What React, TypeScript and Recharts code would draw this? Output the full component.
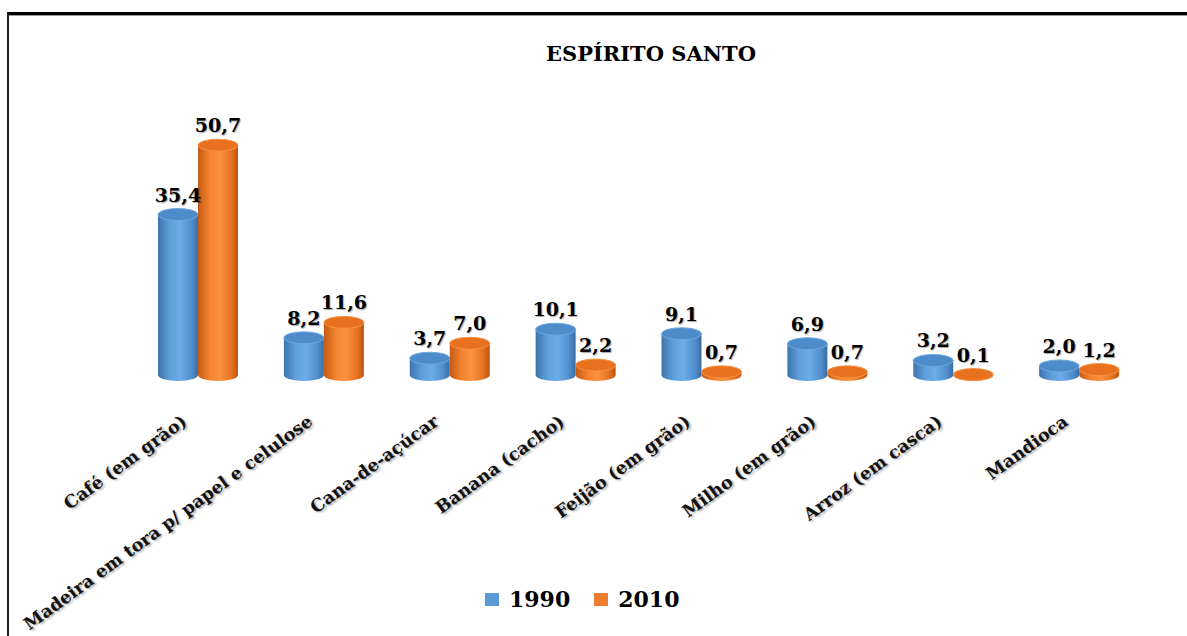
import React from "react";
import { BarChart, Bar, XAxis, YAxis, LabelList } from "recharts";

const categories = [
  "Café (em grão)",
  "Madeira em tora p/ papel e celulose",
  "Cana-de-açúcar",
  "Banana (cacho)",
  "Feijão (em grão)",
  "Milho (em grão)",
  "Arroz (em casca)",
  "Mandioca",
];
const values1990 = [35.4, 8.2, 3.7, 10.1, 9.1, 6.9, 3.2, 2.0];
const values2010 = [50.7, 11.6, 7.0, 2.2, 0.7, 0.7, 0.1, 1.2];

const data = categories.map((name, i) => ({
  name,
  y1990: values1990[i],
  y2010: values2010[i],
}));

const SERIF = "'DejaVu Serif', 'Liberation Serif', serif";
const RY = 6;

const palette = {
  blue: { top: "#4d8bcb", rim: "#6aa8e2" },
  orange: { top: "#e7711f", rim: "#f8913f" },
};

function Cylinder(props: any) {
  const { x, y, width, height, kind } = props;
  if (width == null || y == null) return null;
  const c = palette[kind as "blue" | "orange"];
  const rx = width / 2;
  const h = Math.max(height, 0);
  const body = `M${x},${y} L${x},${y + h} A${rx},${RY} 0 0 0 ${x + width},${y + h} L${x + width},${y} Z`;
  return (
    <g>
      <path d={body} fill={`url(#grad-${kind})`} />
      <ellipse cx={x + rx} cy={y} rx={rx} ry={RY} fill={c.top} stroke={c.rim} strokeWidth={1} />
    </g>
  );
}

const fmt = (v: number) => v.toFixed(1).replace(".", ",");

function ValueLabel(props: any) {
  const { x, y, width, value } = props;
  return (
    <text
      x={x + width / 2}
      y={y - 13}
      textAnchor="middle"
      fontFamily={SERIF}
      fontWeight="bold"
      fontSize={19}
      fill="#000"
      style={{ textShadow: "1px 1px 1px rgba(0,0,0,0.35)" }}
    >
      {fmt(Number(value))}
    </text>
  );
}

function CategoryTick(props: any) {
  const { x, y, payload } = props;
  const ax = x - 10;
  const ay = y + 41;
  return (
    <text
      x={ax}
      y={ay}
      textAnchor="end"
      transform={`rotate(-36, ${ax}, ${ay})`}
      fontFamily={SERIF}
      fontWeight="bold"
      fontSize={17.5}
      fill="#111"
      style={{ textShadow: "1px 2px 2px rgba(0,0,0,0.35)" }}
    >
      {payload.value}
    </text>
  );
}

export default function App() {
  return (
    <div
      style={{
        position: "absolute",
        left: 0,
        top: 0,
        width: 1187,
        height: 636,
        overflow: "hidden",
        background: "#fff",
      }}
    >
      <div
        style={{
          position: "absolute",
          left: 7,
          top: 12,
          width: 1300,
          height: 800,
          borderTop: "3px solid #000",
          borderLeft: "2px solid #222",
          boxShadow: "inset 0 1px 0 #999",
        }}
      />
      <div
        style={{
          position: "absolute",
          left: 0,
          top: 41,
          width: 1302,
          textAlign: "center",
          fontFamily: SERIF,
          fontWeight: "bold",
          fontSize: 21,
          color: "#000",
        }}
      >
        ESPÍRITO SANTO
      </div>
      <div style={{ position: "absolute", left: 0, top: 0 }}>
        <BarChart
          width={1187}
          height={636}
          data={data}
          margin={{ top: 103, right: 45, left: 135, bottom: 0 }}
          barGap={0}
          barSize={40}
        >
          <defs>
            <linearGradient id="grad-blue" x1="0" y1="0" x2="1" y2="0">
              <stop offset="0%" stopColor="#3e74ae" />
              <stop offset="30%" stopColor="#5e9fdc" />
              <stop offset="55%" stopColor="#6aade9" />
              <stop offset="85%" stopColor="#4f8ccb" />
              <stop offset="100%" stopColor="#3a6ca3" />
            </linearGradient>
            <linearGradient id="grad-orange" x1="0" y1="0" x2="1" y2="0">
              <stop offset="0%" stopColor="#c45a14" />
              <stop offset="30%" stopColor="#f3832f" />
              <stop offset="55%" stopColor="#fb9240" />
              <stop offset="85%" stopColor="#e3701e" />
              <stop offset="100%" stopColor="#bb5510" />
            </linearGradient>
          </defs>
          <XAxis
            dataKey="name"
            height={261}
            axisLine={false}
            tickLine={false}
            interval={0}
            tick={<CategoryTick />}
          />
          <YAxis hide domain={[0, 60]} />
          <Bar
            dataKey="y1990"
            name="1990"
            fill="#5b9bd5"
            isAnimationActive={false}
            shape={(p: any) => <Cylinder {...p} kind="blue" />}
          >
            <LabelList dataKey="y1990" content={<ValueLabel />} />
          </Bar>
          <Bar
            dataKey="y2010"
            name="2010"
            fill="#ed7d31"
            isAnimationActive={false}
            shape={(p: any) => <Cylinder {...p} kind="orange" />}
          >
            <LabelList dataKey="y2010" content={<ValueLabel />} />
          </Bar>
        </BarChart>
      </div>
      <div
        style={{
          position: "absolute",
          left: 485,
          top: 586,
          display: "flex",
          alignItems: "center",
          fontFamily: SERIF,
          fontWeight: "bold",
          fontSize: 22,
          color: "#000",
        }}
      >
        <span style={{ width: 14, height: 13, background: "#5b9bd5", display: "inline-block", marginRight: 10 }} />
        <span style={{ marginRight: 24 }}>1990</span>
        <span style={{ width: 14, height: 13, background: "#ed7d31", display: "inline-block", marginRight: 10 }} />
        <span>2010</span>
      </div>
    </div>
  );
}
